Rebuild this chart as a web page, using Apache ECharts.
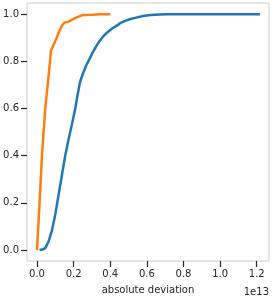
<!DOCTYPE html>
<html><head><meta charset="utf-8">
<script src="https://cdn.jsdelivr.net/npm/echarts@6/dist/echarts.min.js"></script>
<style>html,body{margin:0;padding:0;background:#fff}#c{width:280px;height:300px}</style>
</head><body><div id="c"></div>
<script>
// x values in units of 1e13
const blueX = [0.014,0.03,0.045,0.063,0.082,0.1,0.118,0.136,0.154,0.17,0.19,0.209,0.222,0.236,0.252,0.269,0.29,0.3,0.32,0.34,0.36,0.382,0.41,0.436,0.46,0.482,0.51,0.536,0.58,0.62,0.67,0.71,1.218];
const blueY = [0,0.002,0.008,0.036,0.084,0.152,0.235,0.317,0.4,0.46,0.53,0.6,0.66,0.716,0.75,0.784,0.815,0.832,0.86,0.885,0.905,0.922,0.94,0.952,0.965,0.972,0.98,0.985,0.993,0.997,0.999,1.0,1.0];
const orangeX = [0,0.014,0.027,0.045,0.065,0.076,0.09,0.104,0.12,0.135,0.15,0.17,0.21,0.25,0.3,0.35,0.4];
const orangeY = [0,0.2,0.4,0.6,0.75,0.845,0.87,0.894,0.925,0.95,0.965,0.968,0.985,0.997,0.998,1.0,1.0];
const xTicks = [0,0.2,0.4,0.6,0.8,1.0,1.2];
const yTicks = [0,0.2,0.4,0.6,0.8,1.0];
const xName = 'absolute deviation';
const offsetText = '1e13';

const zip = (a,b)=>a.map((v,i)=>[v,b[i]]);
const font = 'DejaVu Sans';
const chart = echarts.init(document.getElementById('c'), null, {renderer:'canvas'});
chart.setOption({
  animation:false,
  grid:{left:27,right:11,top:3,bottom:32,show:true,borderColor:'#cccccc',borderWidth:1,backgroundColor:'transparent'},
  xAxis:{type:'value',min:-0.0546,max:1.267,
    name:xName,nameLocation:'middle',nameGap:24,
    nameTextStyle:{fontFamily:font,fontSize:10,color:'#262626'},
    axisLine:{show:false,onZero:false},
    splitLine:{show:false},
    axisTick:{show:true,length:6,inside:false,customValues:xTicks,lineStyle:{color:'#262626',width:1.2}},
    axisLabel:{customValues:xTicks,margin:8,fontFamily:font,fontSize:10,color:'#262626',formatter:v=>v.toFixed(1)}
  },
  yAxis:{type:'value',min:-0.0466,max:1.048,
    axisLine:{show:false,onZero:false},
    splitLine:{show:false},
    axisTick:{show:true,length:6,inside:false,customValues:yTicks,lineStyle:{color:'#262626',width:1.2}},
    axisLabel:{customValues:yTicks,margin:8,fontFamily:font,fontSize:10,color:'#262626',formatter:v=>v.toFixed(1)}
  },
  graphic:[{type:'text',right:11,top:287,style:{text:offsetText,fontFamily:font,fontSize:10,fill:'#262626'}}],
  series:[
    {type:'line',data:zip(blueX,blueY),showSymbol:false,lineStyle:{color:'#1f77b4',width:2.5},itemStyle:{color:'#1f77b4'}},
    {type:'line',data:zip(orangeX,orangeY),showSymbol:false,lineStyle:{color:'#ff7f0e',width:2.5},itemStyle:{color:'#ff7f0e'}}
  ]
});
</script></body></html>
